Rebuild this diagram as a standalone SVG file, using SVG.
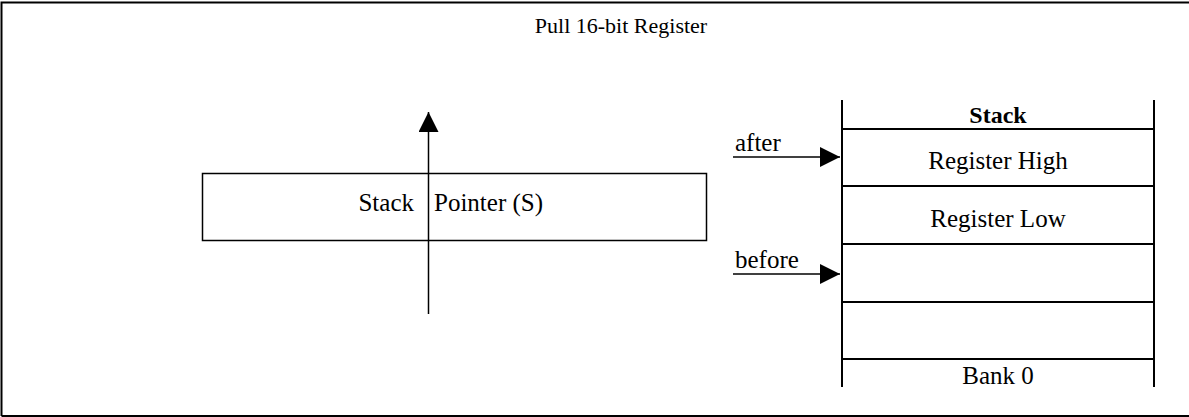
<svg xmlns="http://www.w3.org/2000/svg" width="1189" height="417" viewBox="0 0 1189 417">
<style>
text{font-family:"Liberation Serif","Times New Roman",serif;font-size:25px;fill:#000}
.t{font-size:22px}
.b{font-weight:bold;font-size:24px}
.m{text-anchor:middle}
.e{text-anchor:end}
.ln{stroke:#000;stroke-width:2;fill:none}
.th{stroke:#000;stroke-width:1.5;fill:none}
</style>
<defs>
<marker id="ah" markerWidth="22" markerHeight="22" refX="20" refY="10" orient="auto" markerUnits="userSpaceOnUse">
<path d="M0,0 L20,10 L0,20 Z" fill="#000"/>
</marker>
</defs>
<rect width="1189" height="417" fill="#fff"/>
<g id="frame">
<path class="ln" d="M1.5,416 L1.5,2.5 L1189,2.5 M1.5,416 L1189,416"/>
</g>
<text id="title" class="t m" x="621" y="33">Pull 16-bit Register</text>
<g id="sp">
<rect class="th" x="202.5" y="173.5" width="504" height="67"/>
<text class="e" x="414" y="211">Stack</text>
<text x="434" y="211">Pointer (S)</text>
</g>
<g id="stack">
<path class="ln" d="M842,100 L842,387 M1154,100 L1154,387 M842,129 L1154,129 M842,186 L1154,186 M842,244 L1154,244 M842,302 L1154,302 M842,359 L1154,359"/>
<text class="b m" x="998" y="123">Stack</text>
<text class="m" x="998" y="169">Register High</text>
<text class="m" x="998" y="227">Register Low</text>
<text class="m" x="998" y="384">Bank 0</text>
</g>
<g id="connectors">
<line class="th" x1="428.5" y1="314" x2="428.5" y2="112" marker-end="url(#ah)"/>
<line class="th" x1="733" y1="157" x2="840" y2="157" marker-end="url(#ah)"/>
<line class="th" x1="733" y1="274" x2="840" y2="274" marker-end="url(#ah)"/>
<text x="735" y="151">after</text>
<text x="735" y="268">before</text>
</g>
</svg>
